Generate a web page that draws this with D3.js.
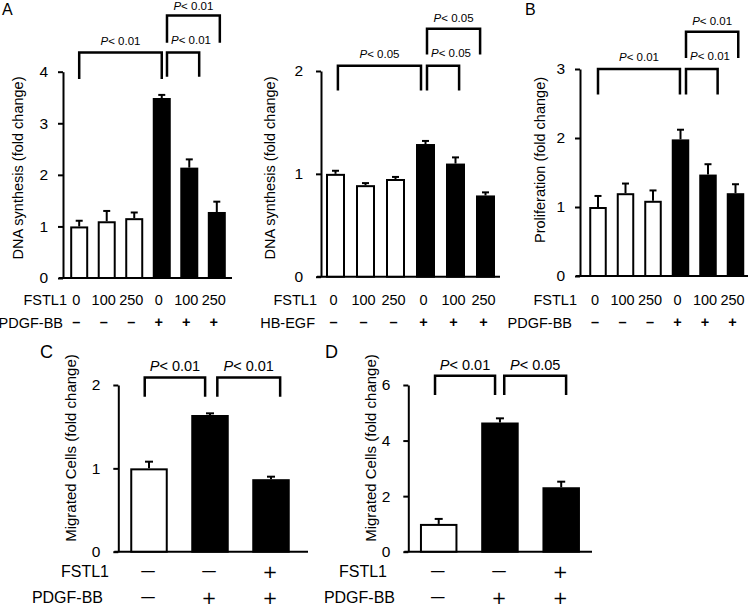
<!DOCTYPE html>
<html><head><meta charset="utf-8">
<script src="https://cdn.jsdelivr.net/npm/d3@7"></script>
<style>body{margin:0;background:#fff}svg{display:block}</style>
</head><body>
<svg id="c" width="750" height="608"></svg>
<script>
// ---------- DATA ----------
const a1Doses = ["0","100","250","0","100","250"];
const a1Factor = ["–","–","–","+","+","+"];
const a1Means = [1.00, 1.10, 1.16, 3.49, 2.14, 1.28];
const a1Errors = [0.11, 0.20, 0.11, 0.06, 0.16, 0.20];
const a1Ticks = [0,1,2,3,4];
const a1Comparisons = [[0,3,"0.01"],[3,4,"0.01"],[3,5,"0.01"]];

const a2Doses = ["0","100","250","0","100","250"];
const a2Factor = ["–","–","–","+","+","+"];
const a2Means = [1.00, 0.89, 0.95, 1.29, 1.10, 0.79];
const a2Errors = [0.03, 0.02, 0.02, 0.03, 0.06, 0.03];
const a2Ticks = [0,1,2];
const a2Comparisons = [[0,3,"0.05"],[3,4,"0.05"],[3,5,"0.05"]];

const bDoses = ["0","100","250","0","100","250"];
const bFactor = ["–","–","–","+","+","+"];
const bMeans = [1.00, 1.20, 1.09, 1.98, 1.47, 1.20];
const bErrors = [0.16, 0.14, 0.15, 0.14, 0.15, 0.13];
const bTicks = [0,1,2,3];
const bComparisons = [[0,3,"0.01"],[3,4,"0.01"],[3,5,"0.01"]];

const cFstl1 = ["—","—","+"];
const cFactor = ["—","+","+"];
const cMeans = [1.00, 1.64, 0.87];
const cErrors = [0.08, 0.02, 0.03];
const cTicks = [0,1,2];
const cComparisons = [[0,1,"0.01"],[1,2,"0.01"]];

const dFstl1 = ["—","—","+"];
const dFactor = ["—","+","+"];
const dMeans = [1.00, 4.65, 2.32];
const dErrors = [0.18, 0.15, 0.20];
const dTicks = [0,2,4,6];
const dComparisons = [[0,1,"0.01"],[1,2,"0.05"]];

// ---------- LAYOUT ----------
const FONT = "'Liberation Sans', Arial, Helvetica, sans-serif";
const SYMFONT = "'DejaVu Sans', sans-serif";
const svg = d3.select("#c").style("font-family", FONT);

const panels = [
  { letter:"A", lx:2, ly:15, lsize:16,
    row1:a1Doses, row2:a1Factor, row1Name:"FSTL1", row2Name:"PDGF-BB",
    means:a1Means, errors:a1Errors, ticks:a1Ticks, yMax:4, comps:a1Comparisons,
    yLabel:"DNA synthesis (fold change)",
    L:{axisX:63, y0:278, yTop:71.7, c0:79.2, c1:216.8, barW:18, xEnd:232, tickPad:10, tickFont:15.5,
       yLabX:18, yLabY:168, yLabFont:14.5, row1C:300, row2C:322.7, row1X:67, row2X:63, rowFont:14.5, rowShift:-3,
       pFont:11.5, capW:7,
       br:[{a:0,b:3.0,top:4.37,arm:3.86,anchor:"middle",off:8},{a:3.19,b:4.36,top:4.37,arm:3.9,anchor:"start",off:9},{a:3.19,b:5.11,top:5.09,arm:4.56,anchor:"middle",off:5}]}},
  { letter:"", row1:a2Doses, row2:a2Factor, row1Name:"FSTL1", row2Name:"HB-EGF",
    means:a2Means, errors:a2Errors, ticks:a2Ticks, yMax:2, comps:a2Comparisons,
    yLabel:"DNA synthesis (fold change)",
    L:{axisX:321, y0:276.7, yTop:71, c0:335.5, c1:485.5, barW:19, xEnd:500, tickPad:13, tickFont:15.5,
       yLabX:270, yLabY:168, yLabFont:14.5, row1C:300, row2C:322.7, row1X:317, row2X:315, rowFont:14.5, rowShift:-2,
       pFont:11.5, capW:7,
       br:[{a:0.08,b:2.85,top:2.05,arm:1.81,anchor:"middle",off:8},{a:3.05,b:4.12,top:2.05,arm:1.81,anchor:"start",off:9},{a:3.05,b:4.82,top:2.41,arm:2.16,anchor:"middle",off:7}]}},
  { letter:"B", lx:525, ly:15, lsize:16,
    row1:bDoses, row2:bFactor, row1Name:"FSTL1", row2Name:"PDGF-BB",
    means:bMeans, errors:bErrors, ticks:bTicks, yMax:3, comps:bComparisons,
    yLabel:"Proliferation (fold change)",
    L:{axisX:580, y0:276, yTop:69, c0:598, c1:735.5, barW:17.5, xEnd:748, tickPad:10, tickFont:15.5,
       yLabX:540, yLabY:160, yLabFont:14.5, row1C:300, row2C:322.7, row1X:577, row2X:572, rowFont:14.5, rowShift:-3,
       pFont:11.5, capW:7,
       br:[{a:0,b:2.98,top:3.0,arm:2.63,anchor:"middle",off:8},{a:3.2,b:4.35,top:3.0,arm:2.63,anchor:"start",off:9},{a:3.2,b:5.1,top:3.54,arm:3.16,anchor:"middle",off:7}]}},
  { letter:"C", lx:40, ly:358, lsize:18,
    row1:cFstl1, row2:cFactor, row1Name:"FSTL1", row2Name:"PDGF-BB",
    means:cMeans, errors:cErrors, ticks:cTicks, yMax:2, comps:cComparisons,
    yLabel:"Migrated Cells (fold change)",
    L:{axisX:118.3, y0:551.7, yTop:385, c0:149, c1:271, barW:37.5, xEnd:308, tickPad:13, tickFont:15.5,
       yLabX:70, yLabY:448, yLabFont:15, row1C:571.7, row2C:597.5, row1X:109, row2X:103, rowFont:16, rowShift:-1,
       pFont:14.5, capW:8, sym:true,
       br:[{a:-0.07,b:0.92,top:2.09,arm:1.86,anchor:"middle",off:6},{a:1.12,b:2.15,top:2.09,arm:1.86,anchor:"middle",off:6}]}},
  { letter:"D", lx:325, ly:358, lsize:18,
    row1:dFstl1, row2:dFactor, row1Name:"FSTL1", row2Name:"PDGF-BB",
    means:dMeans, errors:dErrors, ticks:dTicks, yMax:6, comps:dComparisons,
    yLabel:"Migrated Cells (fold change)",
    L:{axisX:408.3, y0:551.7, yTop:385, c0:438.7, c1:561.2, barW:37.5, xEnd:592, tickPad:13, tickFont:15.5,
       yLabX:370, yLabY:448, yLabFont:15, row1C:571.7, row2C:597.5, row1X:387, row2X:395, rowFont:16, rowShift:-1,
       pFont:14.5, capW:8, sym:true,
       br:[{a:-0.06,b:0.92,top:6.33,arm:5.64,anchor:"middle",off:6},{a:1.07,b:2.08,top:6.33,arm:5.64,anchor:"middle",off:6}]}}
];

panels.forEach(p => {
  const L = p.L, n = p.means.length;
  const x = d3.scaleLinear().domain([0, n-1]).range([L.c0, L.c1]);
  const y = d3.scaleLinear().domain([0, p.yMax]).range([L.y0, L.yTop]);
  const g = svg.append("g");

  if (p.letter) g.append("text").attr("x", p.lx).attr("y", p.ly).attr("font-size", p.lsize).text(p.letter);

  // y axis
  const ax = g.append("g").attr("transform", `translate(${L.axisX},0)`)
    .call(d3.axisLeft(y).tickValues(p.ticks).tickFormat(d3.format("d")).tickSize(5).tickSizeOuter(0).tickPadding(L.tickPad));
  ax.select(".domain").attr("stroke", "#000").attr("stroke-width", 2);
  ax.selectAll(".tick line").attr("stroke", "#000").attr("stroke-width", 2);
  ax.selectAll(".tick text").attr("font-size", L.tickFont).attr("font-family", FONT).attr("fill", "#000");

  // x baseline
  g.append("line").attr("x1", L.axisX - 4).attr("x2", L.xEnd).attr("y1", y(0)).attr("y2", y(0))
    .attr("stroke", "#000").attr("stroke-width", 2);

  // bars
  const idx = d3.range(n);
  g.selectAll("rect.bar").data(idx).join("rect").attr("class", "bar")
    .attr("x", i => x(i) - L.barW/2 + 1)
    .attr("width", L.barW - 2)
    .attr("y", i => y(p.means[i]) + 1)
    .attr("height", i => y(0) - y(p.means[i]) - 1)
    .attr("fill", i => p.row2[i] === "+" ? "#000" : "#fff")
    .attr("stroke", "#000").attr("stroke-width", 2);

  // error bars
  g.selectAll("line.err").data(idx).join("line").attr("class", "err")
    .attr("x1", i => x(i)).attr("x2", i => x(i))
    .attr("y1", i => y(p.means[i])).attr("y2", i => y(p.means[i] + p.errors[i]))
    .attr("stroke", "#000").attr("stroke-width", 2);
  g.selectAll("line.cap").data(idx).join("line").attr("class", "cap")
    .attr("x1", i => x(i) - L.capW/2).attr("x2", i => x(i) + L.capW/2)
    .attr("y1", i => y(p.means[i] + p.errors[i])).attr("y2", i => y(p.means[i] + p.errors[i]))
    .attr("stroke", "#000").attr("stroke-width", 2);

  // significance brackets
  p.comps.forEach((c, k) => {
    const b = L.br[k];
    const xa = x(b.a), xb = x(b.b), yt = y(b.top), ya = y(b.arm);
    g.append("path").attr("d", `M${xa},${ya}V${yt}H${xb}V${ya}`)
      .attr("fill", "none").attr("stroke", "#000").attr("stroke-width", 2.5);
    const t = g.append("text")
      .attr("x", b.anchor === "start" ? xa + 4 : (xa + xb)/2)
      .attr("y", yt - b.off)
      .attr("text-anchor", b.anchor).attr("font-size", L.pFont);
    t.append("tspan").attr("font-style", "italic").text("P");
    t.append("tspan").text("< " + c[2]);
  });

  // y label
  g.append("text").attr("transform", `translate(${L.yLabX},${L.yLabY}) rotate(-90)`)
    .attr("text-anchor", "middle").attr("dominant-baseline", "central")
    .attr("font-size", L.yLabFont).text(p.yLabel);

  // condition rows
  const lblBase = c => c + L.rowFont * 0.36;
  g.append("text").attr("x", L.row1X).attr("y", lblBase(L.row1C)).attr("text-anchor", "end").attr("font-size", L.rowFont).text(p.row1Name);
  g.append("text").attr("x", L.row2X).attr("y", lblBase(L.row2C)).attr("text-anchor", "end").attr("font-size", L.rowFont).text(p.row2Name);

  const drawRow = (vals, center, cls) => {
    g.selectAll("text." + cls).data(idx).join("text").attr("class", cls)
      .attr("x", i => x(i) + L.rowShift)
      .attr("text-anchor", "middle")
      .each(function(i) {
        const s = d3.select(this), v = vals[i];
        if (L.sym) {
          const fs = v === "+" ? 18 : 15;
          s.attr("font-family", SYMFONT).attr("font-size", fs)
           .attr("y", center + fs * (v === "+" ? 0.34 : 0.31));
        } else if (v === "+" || v === "–") {
          s.attr("font-size", L.rowFont).attr("font-weight", "bold").attr("y", center + L.rowFont * 0.3);
        } else {
          s.attr("font-size", L.rowFont).attr("y", lblBase(center));
        }
      })
      .text(i => vals[i]);
  };
  drawRow(p.row1, L.row1C, "r1");
  drawRow(p.row2, L.row2C, "r2");
});
</script>
</body></html>
